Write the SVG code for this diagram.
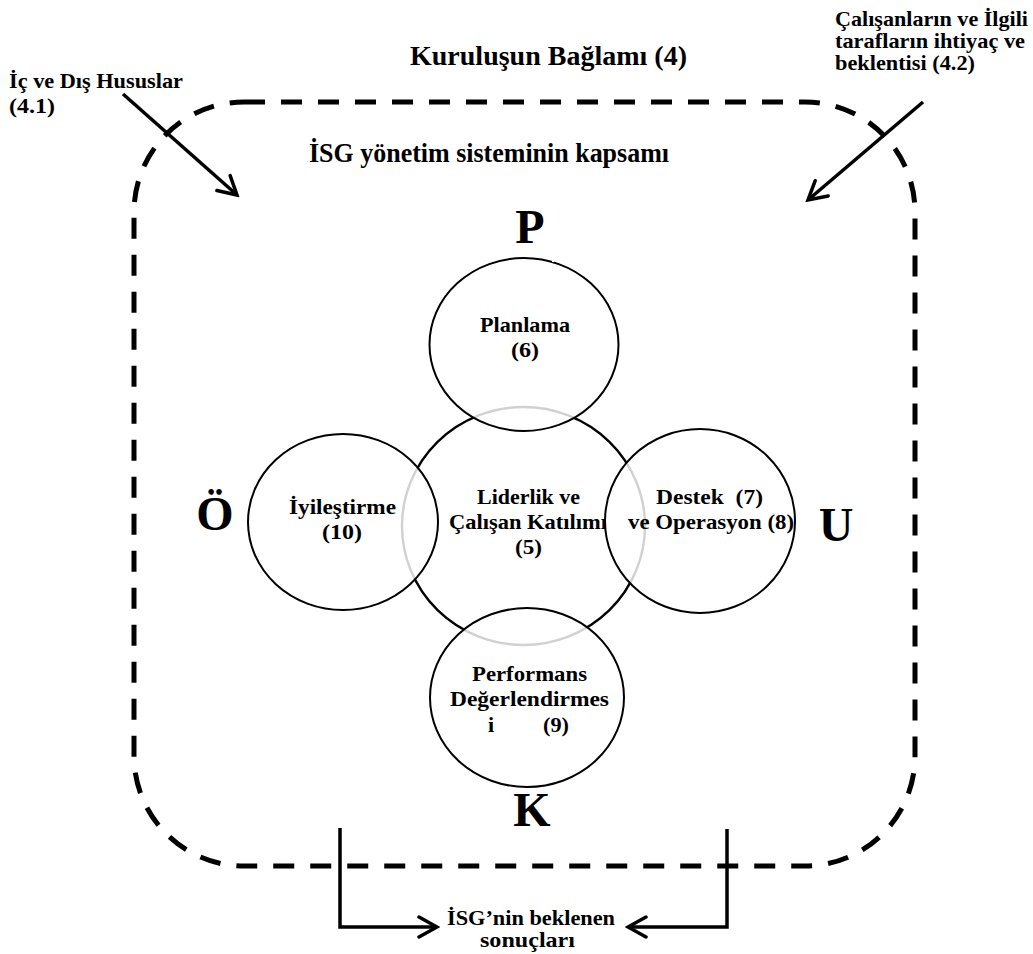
<svg xmlns="http://www.w3.org/2000/svg" width="1033" height="954" viewBox="0 0 1033 954">
<style>
.t{font-family:"Liberation Serif","Times New Roman",serif;font-weight:bold;fill:#000}
.big{font-size:48px;text-anchor:middle}
.lbl{font-size:22px}
.side{font-size:21px}
.head{font-size:27px}
.circ{stroke:#000;stroke-width:2;fill:#fff;fill-opacity:0.82}
.arrow{fill:none;stroke:#000;stroke-width:3.5;marker-end:url(#ah)}
</style>
<defs>
<marker id="ah" viewBox="0 0 24 24" markerWidth="24" markerHeight="24" refX="21" refY="12" orient="auto" markerUnits="userSpaceOnUse">
<path d="M3,2 L21,12 L3,22" fill="none" stroke="#000" stroke-width="3.5" stroke-linecap="round"/>
</marker>
</defs>
<rect width="1033" height="954" fill="#fff"/>

<g id="boundary">
<rect x="134" y="102" width="781" height="764" rx="110" ry="110" fill="none" stroke="#000" stroke-width="5" stroke-dasharray="21 16"/>
<text class="t head" x="410" y="65" textLength="277" lengthAdjust="spacingAndGlyphs">Kuruluşun Bağlamı (4)</text>
<text class="t head" x="309" y="162" textLength="360" lengthAdjust="spacingAndGlyphs">İSG yönetim sisteminin kapsamı</text>
</g>

<g id="external-issues">
<text class="t side" x="9" y="88" textLength="174" lengthAdjust="spacingAndGlyphs">İç ve Dış Hususlar</text>
<text class="t side" x="9" y="113" textLength="46" lengthAdjust="spacingAndGlyphs">(4.1)</text>
</g>

<g id="interested-parties">
<text class="t side" x="835" y="26" textLength="193" lengthAdjust="spacingAndGlyphs">Çalışanların ve İlgili</text>
<text class="t side" x="835" y="48" textLength="190" lengthAdjust="spacingAndGlyphs">tarafların ihtiyaç ve</text>
<text class="t side" x="835" y="70" textLength="140" lengthAdjust="spacingAndGlyphs">beklentisi (4.2)</text>
</g>

<g id="leadership">
<ellipse cx="523.5" cy="526" rx="121.5" ry="119" fill="#fff" stroke="#000" stroke-width="2.4"/>
<text class="t lbl" x="477" y="504" textLength="103" lengthAdjust="spacingAndGlyphs">Liderlik ve</text>
<text class="t lbl" x="449" y="529" textLength="158" lengthAdjust="spacingAndGlyphs">Çalışan Katılımı</text>
<text class="t lbl" x="515" y="554" textLength="27" lengthAdjust="spacingAndGlyphs">(5)</text>
</g>

<g id="planning">
<ellipse class="circ" cx="524" cy="344.5" rx="94.5" ry="86.5"/>
<rect x="494" y="254" width="2" height="7" fill="#fff"/>
<rect x="552" y="255" width="2" height="7" fill="#fff"/>
<text class="t lbl" x="480" y="332" textLength="90" lengthAdjust="spacingAndGlyphs">Planlama</text>
<text class="t lbl" x="511" y="357" textLength="28" lengthAdjust="spacingAndGlyphs">(6)</text>
</g>

<g id="improvement">
<ellipse class="circ" cx="343" cy="522" rx="95" ry="88"/>
<text class="t lbl" x="289" y="514" textLength="107" lengthAdjust="spacingAndGlyphs">İyileştirme</text>
<text class="t lbl" x="322" y="539" textLength="40" lengthAdjust="spacingAndGlyphs">(10)</text>
</g>

<g id="support-operation">
<ellipse class="circ" cx="700" cy="521" rx="95" ry="92"/>
<text class="t lbl" x="656" y="504" textLength="107" lengthAdjust="spacingAndGlyphs" xml:space="preserve">Destek  (7)</text>
<text class="t lbl" x="628" y="529" textLength="166" lengthAdjust="spacingAndGlyphs">ve Operasyon (8)</text>
</g>

<g id="performance">
<ellipse class="circ" cx="527" cy="697.5" rx="97" ry="89.5"/>
<text class="t lbl" x="472" y="681" textLength="115" lengthAdjust="spacingAndGlyphs">Performans</text>
<text class="t lbl" x="450" y="706" textLength="159" lengthAdjust="spacingAndGlyphs">Değerlendirmes</text>
<text class="t lbl" x="488" y="732">i</text>
<text class="t lbl" x="543" y="732" textLength="26" lengthAdjust="spacingAndGlyphs">(9)</text>
</g>

<g id="pdca">
<text class="t big" x="530" y="243">P</text>
<text class="t big" x="215" y="530">Ö</text>
<text class="t big" x="836" y="541">U</text>
<text class="t big" x="532" y="826">K</text>
</g>

<g id="outcomes">
<text class="t side" x="447" y="925" textLength="168" lengthAdjust="spacingAndGlyphs">İSG’nin beklenen</text>
<text class="t side" x="480" y="947" textLength="95" lengthAdjust="spacingAndGlyphs">sonuçları</text>
</g>

<g id="connectors">
<path class="arrow" d="M123,94 L237,195"/>
<path class="arrow" d="M923,102 L808,200"/>
<path class="arrow" d="M340,828 V927 H437"/>
<path class="arrow" d="M727,829 V927 H628"/>
</g>
</svg>
